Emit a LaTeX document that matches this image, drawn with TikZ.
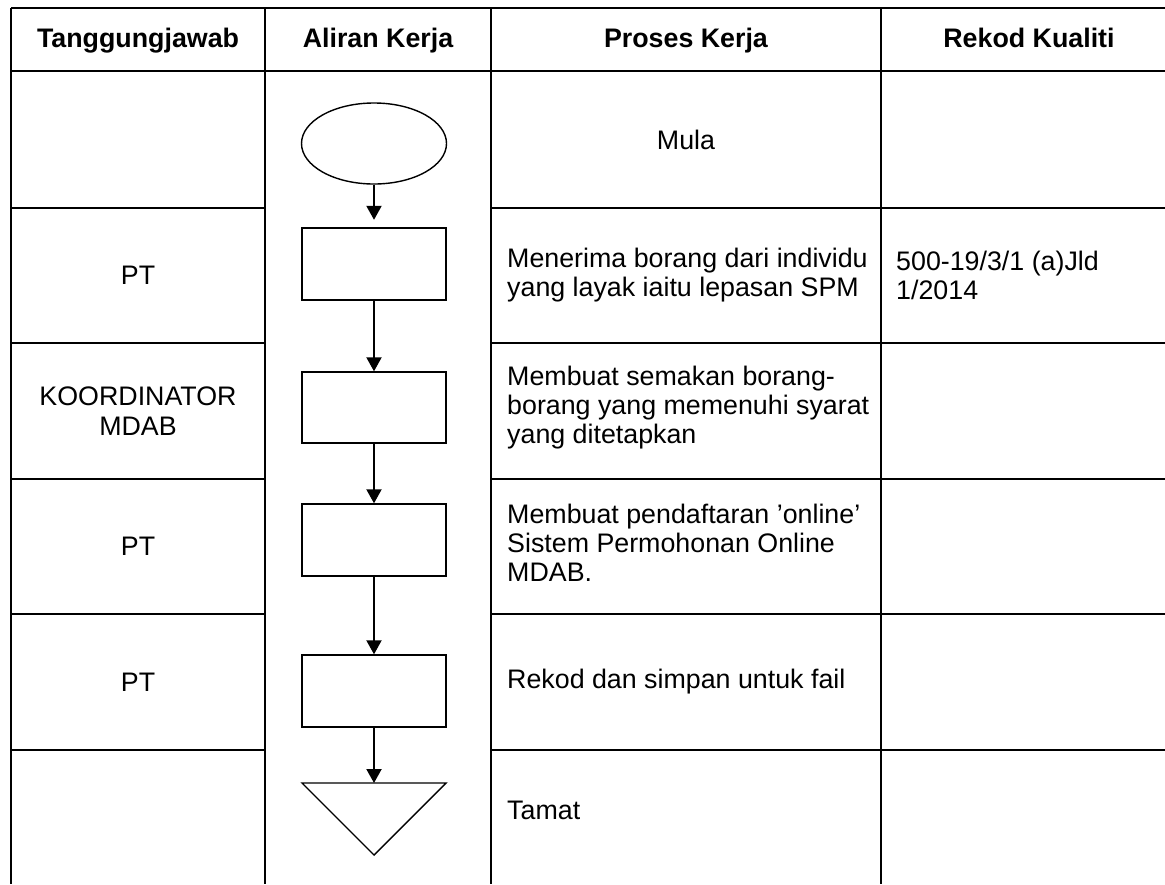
\documentclass[tikz,border=0pt]{standalone}
\usepackage{fontspec}
\setmainfont{Liberation Sans}
\usetikzlibrary{arrows.meta,shapes.geometric}
\begin{document}
\begin{tikzpicture}[x=1pt,y=-1pt,
  gridline/.style={line width=2pt},
  shapeline/.style={line width=1.4pt},
  flow/.style={line width=2pt,-{Triangle[length=14pt,width=15pt]}},
  hdr/.style={font=\fontsize{26.8}{30}\selectfont\bfseries, inner sep=0pt, anchor=base},
  ctxt/.style={font=\fontsize{26.8}{30}\selectfont, inner sep=0pt, align=center},
  ptxt/.style={font=\fontsize{26.8}{29}\selectfont, inner sep=0pt, align=left, anchor=west},
  stepbox/.style={draw, shapeline, minimum width=144pt, minimum height=72pt, inner sep=0pt},
  startell/.style={draw, shapeline, ellipse, minimum width=145pt, minimum height=81pt, inner sep=0pt},
]
\useasboundingbox (0,0) rectangle (1165,884);

% table grid
\draw[gridline] (11,8) -- (1165,8);
\draw[gridline] (11,71) -- (1165,71);
\foreach \yy in {208,343,479,614,750}{
  \draw[gridline] (11,\yy) -- (265,\yy);
  \draw[gridline] (491,\yy) -- (1165,\yy);
}
\foreach \xx in {11,265,491,881}{
  \draw[gridline] (\xx,8) -- (\xx,884);
}

% headers
\node[hdr] (h1) at (138,47) {Tanggungjawab};
\node[hdr] (h2) at (378,47) {Aliran Kerja};
\node[hdr] (h3) at (686,47) {Proses Kerja};
\node[hdr] (h4) at (1029,47) {Rekod Kualiti};

% responsibility column
\node[ctxt] (t2) at (138,275.5) {PT};
\node[ctxt] (t3) at (138,411) {KOORDINATOR\\MDAB};
\node[ctxt] (t4) at (138,546.5) {PT};
\node[ctxt] (t5) at (138,682) {PT};

% process column
\node[ctxt] (p1) at (686,139.5) {Mula};
\node[ptxt] (p2) at (507,275.5) {Menerima borang dari individu\\yang layak iaitu lepasan SPM};
\node[ptxt] (p3) at (507,408) {Membuat semakan borang-\\borang yang memenuhi syarat\\yang ditetapkan};
\node[ptxt] (p4) at (507,543) {Membuat pendaftaran ’online’\\Sistem Permohonan Online\\MDAB.};
\node[ptxt] (p5) at (507,682) {Rekod dan simpan untuk fail};
\node[ptxt] (p6) at (507,810) {Tamat};

% quality record column
\node[ptxt] (q2) at (896,275.5) {500-19/3/1 (a)Jld\\1/2014};

% flow shapes
\node[startell] (ell) at (374,143.5) {};
\node[stepbox] (r1) at (374,264) {};
\node[stepbox, minimum height=71pt] (r2) at (374,407.5) {};
\node[stepbox] (r3) at (374,540) {};
\node[stepbox] (r4) at (374,691) {};
\coordinate (tri) at (374,783);
\draw[shapeline] (302,783) -- (446,783) -- (374,855) -- cycle;

% connectors
\draw[flow, shorten >=7.5pt] (ell.south) -- (r1.north);
\draw[flow] (r1.south) -- (r2.north);
\draw[flow] (r2.south) -- (r3.north);
\draw[flow] (r3.south) -- (r4.north);
\draw[flow] (r4.south) -- (tri);
\end{tikzpicture}
\end{document}
